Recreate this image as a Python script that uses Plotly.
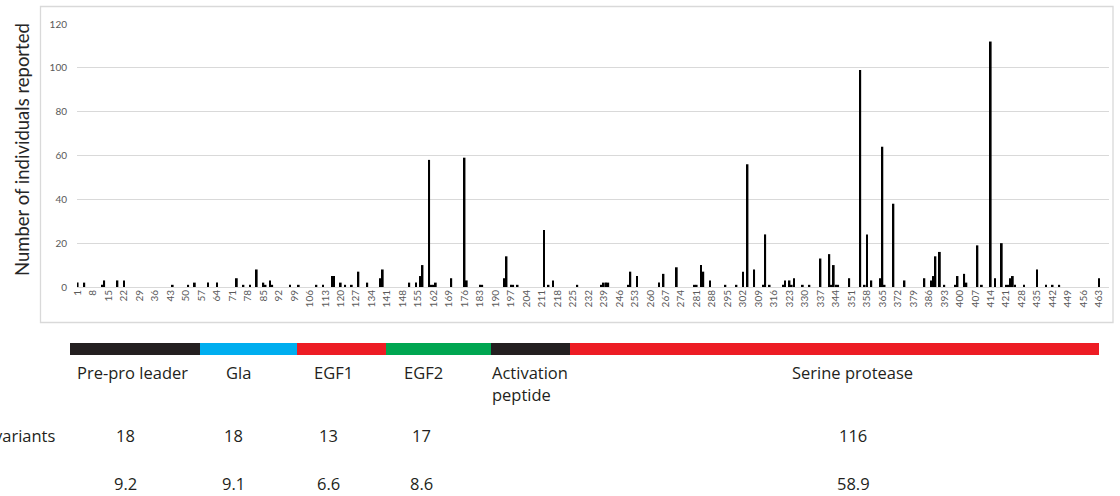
import plotly.graph_objects as go

# ---------------- data ----------------
residues = [1, 4, 12, 13, 19, 22, 44, 51, 54, 60, 64, 73, 76, 79, 82, 85, 86, 88, 89,
            97, 101, 109, 112, 116, 117, 120, 122, 125, 128, 132, 138, 139, 151, 154,
            156, 157, 160, 161, 162, 163, 170, 176, 177, 183, 184, 194, 195, 197, 198,
            200, 212, 214, 216, 227, 238, 239, 240, 241, 250, 251, 254, 264, 266, 272,
            280, 281, 283, 284, 287, 294, 299, 302, 304, 307, 311, 312, 314, 320, 321,
            323, 324, 325, 329, 332, 337, 341, 342, 343, 344, 345, 350, 355, 357, 358,
            360, 364, 365, 366, 370, 375, 384, 387, 388, 389, 391, 393, 398, 399, 402,
            403, 408, 410, 414, 416, 419, 421, 422, 423, 424, 425, 429, 435, 439, 442,
            445, 463]
counts = [2, 2, 1, 3, 3, 3, 1, 1, 2, 2, 2, 4, 1, 1, 8, 2, 1, 3, 1,
          1, 1, 1, 1, 5, 5, 2, 1, 1, 7, 2, 4, 8, 2, 2,
          5, 10, 58, 1, 1, 2, 4, 59, 3, 1, 1, 4, 14, 1, 1,
          1, 26, 1, 3, 1, 1, 2, 2, 2, 1, 7, 5, 2, 6, 9,
          1, 1, 10, 7, 3, 1, 1, 7, 56, 8, 1, 24, 1, 1, 3,
          3, 1, 4, 1, 1, 13, 15, 1, 10, 1, 1, 4, 99, 1, 24,
          3, 4, 64, 1, 38, 3, 4, 3, 5, 14, 16, 1, 1, 5, 6,
          2, 19, 1, 112, 4, 20, 1, 1, 4, 5, 1, 1, 8, 1, 1,
          1, 4]

tick_vals = list(range(1, 464, 7))
tick_text = [str(v) for v in tick_vals]
y_ticks = [0, 20, 40, 60, 80, 100, 120]

domains = ["Pre-pro leader", "Gla", "EGF1", "EGF2", "Activation", "Serine protease"]
domain_colors = ["#231f20", "#00aeef", "#ed1c24", "#00a651", "#231f20", "#ed1c24"]
domain_edges_px = [70, 200, 297, 386, 491, 570, 1099]
variants = ["18", "18", "13", "17", "", "116"]
percent = ["9.2", "9.1", "6.6", "8.6", "", "58.9"]

# ---------------- geometry helpers ----------------
W, H = 1120, 496
L, R, T, B = 77, 11, 24, 209
PW, PH = W - L - R, H - T - B
PB = H - B  # plot bottom pixel


def px(xp):
    return (xp - L) / PW


def py(yp):
    return (PB - yp) / PH


fig = go.Figure()
fig.add_trace(go.Bar(x=residues, y=counts, width=0.8,
                     marker=dict(color="#000000", line=dict(width=0)),
                     hoverinfo="x+y"))

tick_font = dict(family="Lato, Liberation Sans, sans-serif", size=10, color="#595959")
text_font = dict(family="Open Sans, Noto Sans, sans-serif", size=16.5, color="#231f20")

shapes = []
# outer chart frame
shapes.append(dict(type="rect", xref="paper", yref="paper",
                   x0=px(40.5), x1=px(1113), y0=py(322.5), y1=py(6.5),
                   line=dict(color="#d9d9d9", width=1.3), fillcolor="rgba(0,0,0,0)",
                   layer="below"))
# domain bar
for i, c in enumerate(domain_colors):
    shapes.append(dict(type="rect", xref="paper", yref="paper",
                       x0=px(domain_edges_px[i]), x1=px(domain_edges_px[i + 1]),
                       y0=py(355), y1=py(343),
                       line=dict(width=0), fillcolor=c, layer="above"))

annotations = []
annotations.append(dict(text="Number of individuals reported", textangle=-90,
                        xref="paper", yref="paper", x=px(22), y=py(150),
                        xanchor="center", yanchor="middle", showarrow=False,
                        font=dict(family="Lato, sans-serif", size=18.5, color="#262626")))

label_pos = [(75, "left"), (224, "left"), (312, "left"), (402, "left"), (490, "left"), (852, "center")]
for name, (xp, anc) in zip(domains, label_pos):
    annotations.append(dict(text=name, xref="paper", yref="paper", x=px(xp), y=py(372),
                            xanchor=anc, yanchor="middle", showarrow=False, font=text_font))
annotations.append(dict(text="peptide", xref="paper", yref="paper", x=px(490), y=py(394),
                        xanchor="left", yanchor="middle", showarrow=False, font=text_font))

num_centers = [125, 233, 328, 421, None, 853]
for v, p, xc in zip(variants, percent, num_centers):
    if xc is None:
        continue
    annotations.append(dict(text=v, xref="paper", yref="paper", x=px(xc), y=py(435),
                            xanchor="center", yanchor="middle", showarrow=False, font=text_font))
    annotations.append(dict(text=p, xref="paper", yref="paper", x=px(xc), y=py(483),
                            xanchor="center", yanchor="middle", showarrow=False, font=text_font))
annotations.append(dict(text="variants", xref="paper", yref="paper", x=px(57), y=py(435),
                        xanchor="right", yanchor="middle", showarrow=False, font=text_font))

fig.update_layout(
    width=W, height=H,
    margin=dict(l=L, r=R, t=T, b=B, autoexpand=False),
    paper_bgcolor="white", plot_bgcolor="white",
    showlegend=False, bargap=0.2,
    shapes=shapes, annotations=annotations,
    xaxis=dict(range=[0.7, 467.5], tickmode="array", tickvals=tick_vals, ticktext=tick_text,
               tickangle=-90, tickfont=tick_font, showgrid=False, zeroline=False,
               showline=False, ticks="", fixedrange=True),
    yaxis=dict(range=[0, 120], tickmode="array", tickvals=y_ticks, tickfont=tick_font,
               showgrid=True, gridcolor="#d9d9d9", gridwidth=1.3, zeroline=True,
               zerolinecolor="#d9d9d9", zerolinewidth=1.3, showline=False, ticks="",
               ticklabelstandoff=9, fixedrange=True),
)

fig.write_html("out.html", config={"displayModeBar": False},
               post_script="document.body.style.margin='0px';document.body.style.overflow='hidden';")
